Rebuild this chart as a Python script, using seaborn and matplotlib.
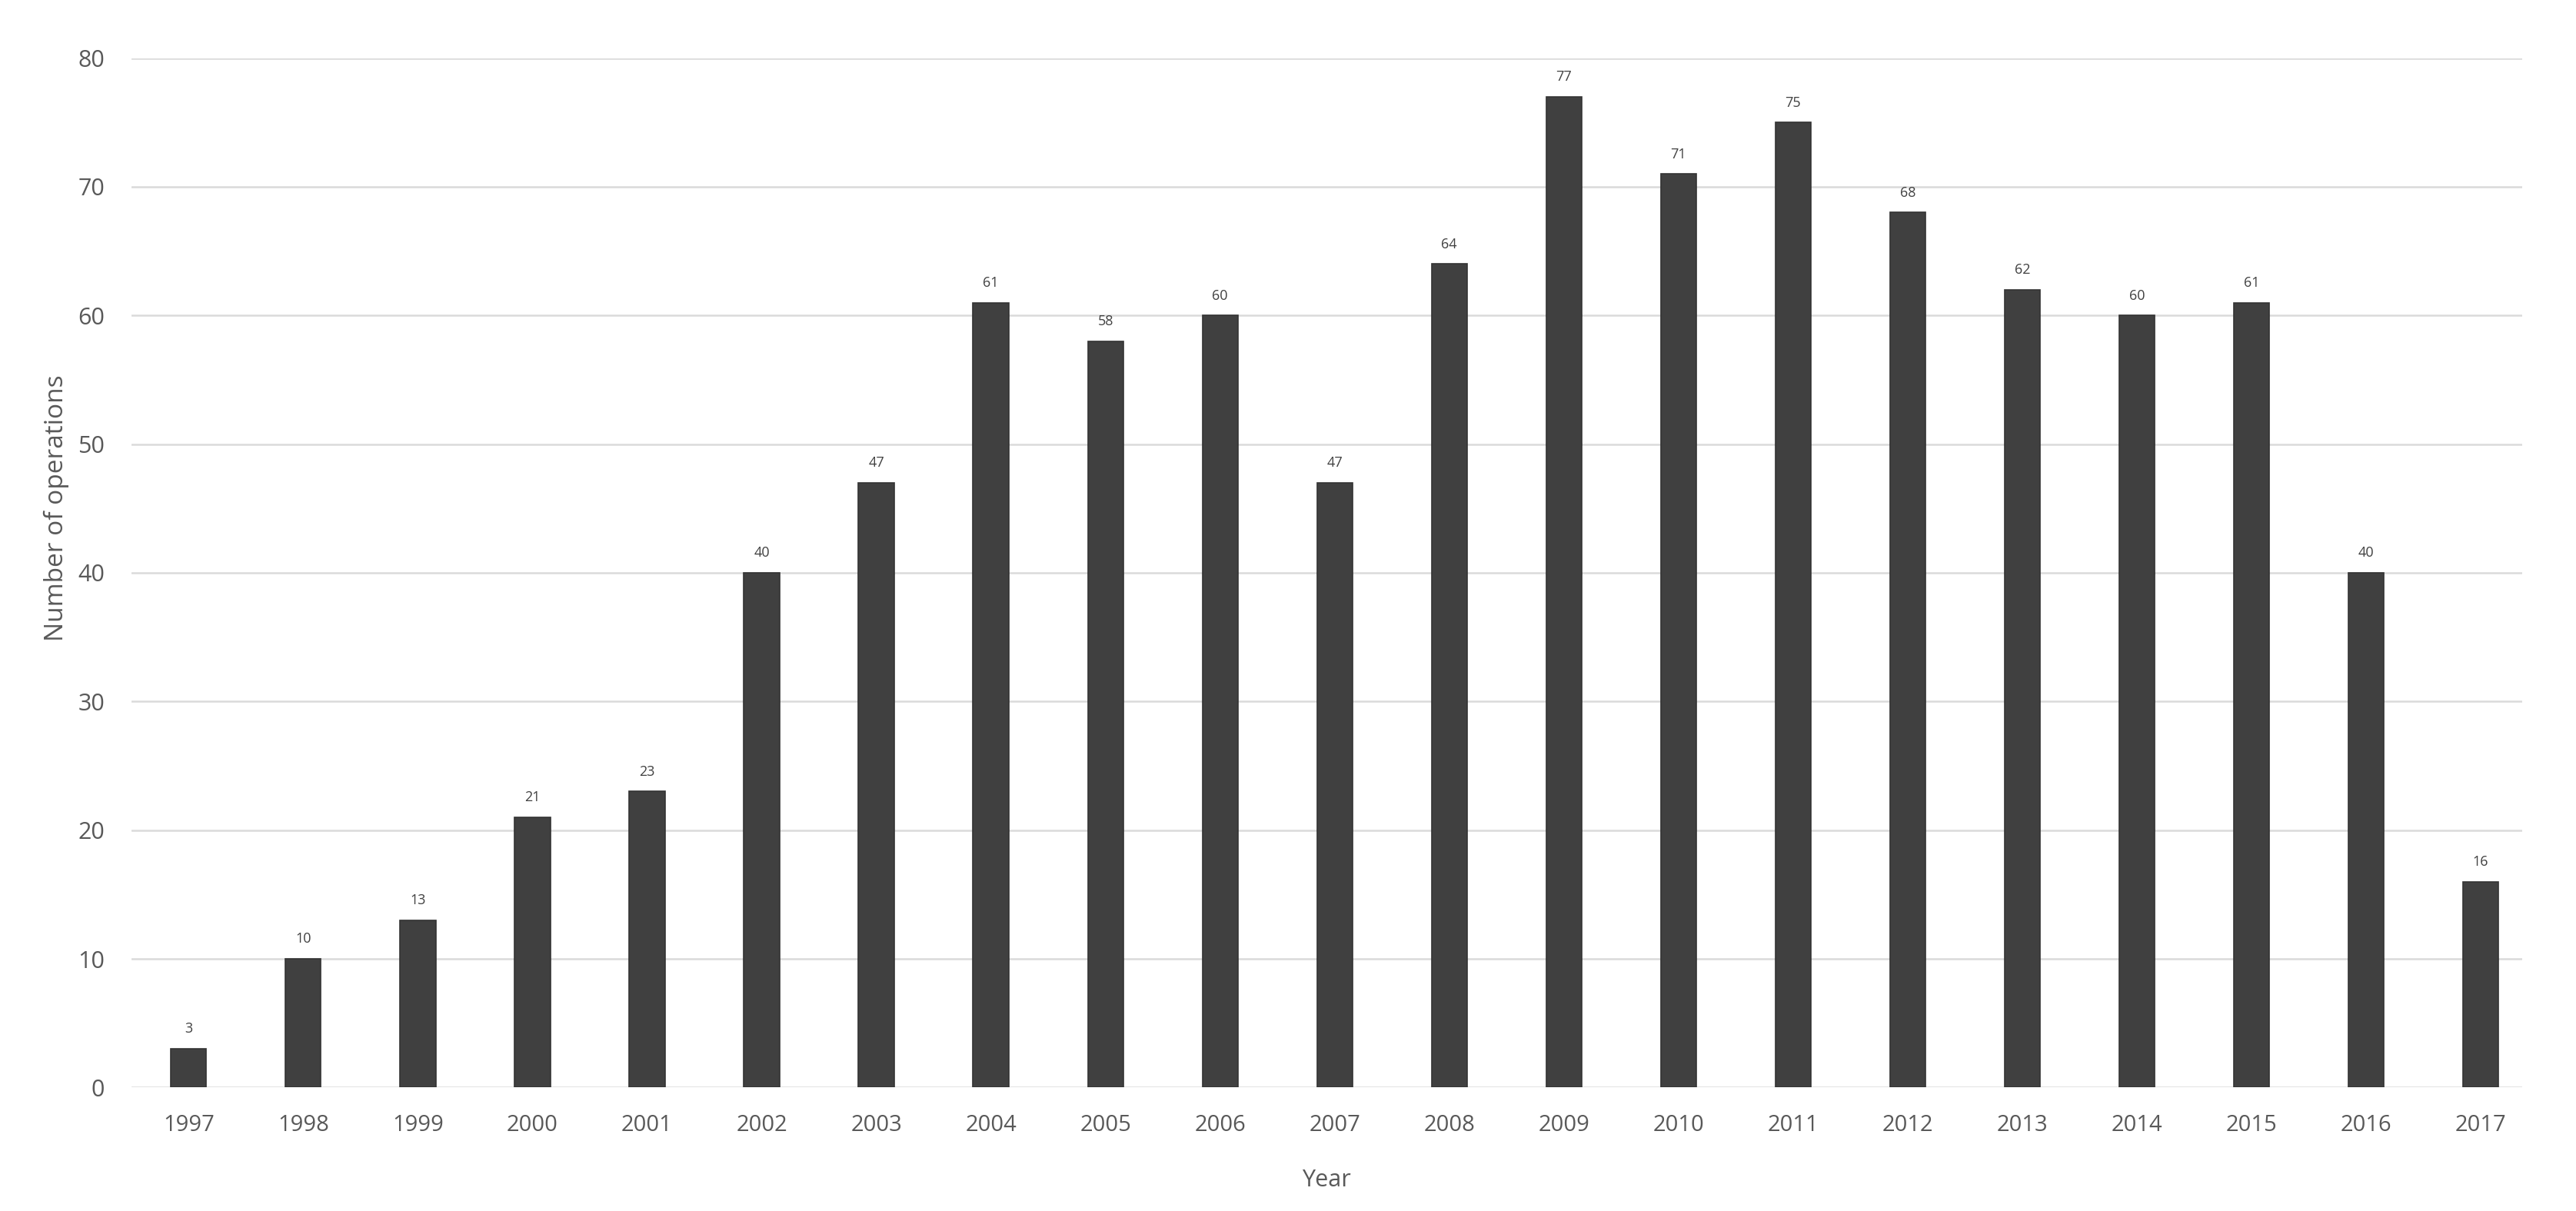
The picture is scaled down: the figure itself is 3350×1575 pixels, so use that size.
import matplotlib
matplotlib.use("Agg")
import matplotlib.pyplot as plt
import seaborn as sns
import pandas as pd

# values
years = ['1997', '1998', '1999', '2000', '2001', '2002', '2003', '2004', '2005', '2006', '2007',
         '2008', '2009', '2010', '2011', '2012', '2013', '2014', '2015', '2016', '2017']
operations = [3, 10, 13, 21, 23, 40, 47, 61, 58, 60, 47,
              64, 77, 71, 75, 68, 62, 60, 61, 40, 16]
y_ticks = [0, 10, 20, 30, 40, 50, 60, 70, 80]

df = pd.DataFrame({'Year': years, 'Operations': operations})

sns.set_style("white")
plt.rcParams['font.family'] = ['Open Sans', 'DejaVu Sans']

fig = plt.figure(figsize=(33.5, 15.75), dpi=100)
ax = fig.add_axes([0.051, 0.102, 0.928, 0.85])

sns.barplot(data=df, x='Year', y='Operations', color='#404040', saturation=1,
            width=0.31, edgecolor='#333333', linewidth=1.2, ax=ax, zorder=3)

ax.set_xlim(-0.5, len(years) - 0.64)
ax.set_ylim(0, 80)
ax.set_yticks(y_ticks)
ax.yaxis.grid(True, color='#dadada', linewidth=1.8, zorder=0)
ax.set_axisbelow(True)
sns.despine(ax=ax, left=True, bottom=True, top=True, right=True)

ax.tick_params(axis='y', length=0, pad=25, labelsize=22, labelcolor='#595959')
ax.tick_params(axis='x', length=0, pad=25, labelsize=21, labelcolor='#595959')

# data labels above bars
for i, v in enumerate(operations):
    ax.annotate(str(v), (i, v), xytext=(0, 12), textcoords='offset points',
                ha='center', va='bottom', fontsize=13, color='#404040')

ax.set_xlabel('Year', fontsize=22, color='#595959', labelpad=30)
ax.set_ylabel('')
fig.text(0.022, 1 - 661 / 1575, 'Number of operations', rotation=90,
         ha='center', va='center', fontsize=24, color='#595959')

fig.savefig('out.png', dpi=100, facecolor='white')
